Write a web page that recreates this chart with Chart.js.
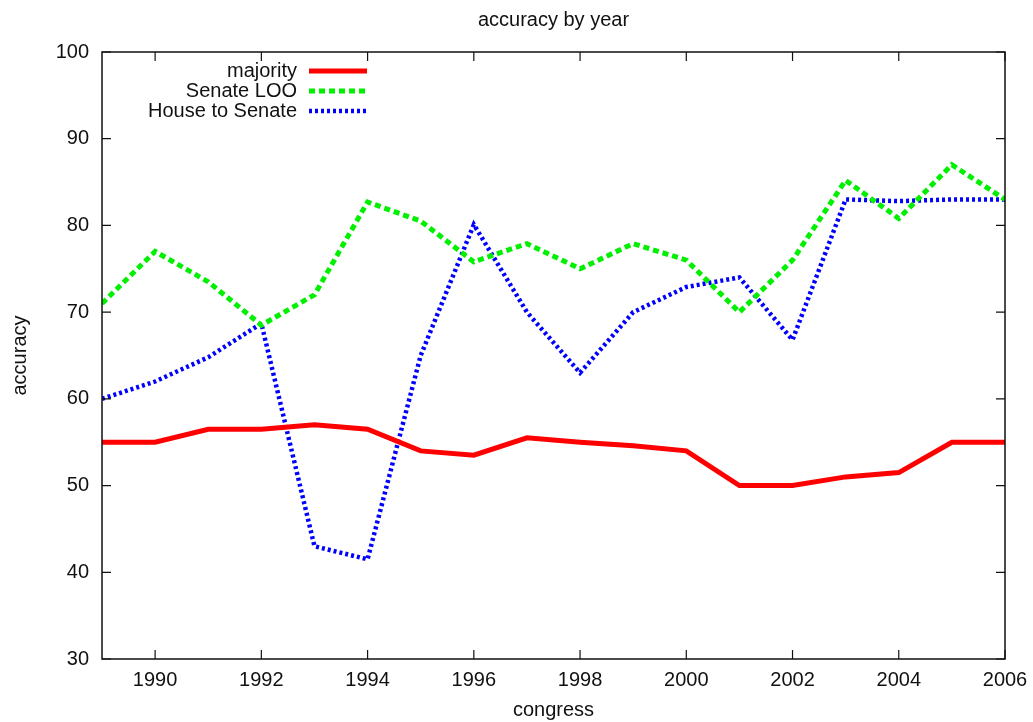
<!DOCTYPE html>
<html>
<head>
<meta charset="utf-8">
<script src="https://cdn.jsdelivr.net/npm/chart.js@4/dist/chart.umd.min.js"></script>
<style>
  html, body { margin: 0; padding: 0; background: #fff; }
  #wrap { width: 1033px; height: 722px; }
</style>
</head>
<body>
<div id="wrap"><canvas id="chart" width="1033" height="722"></canvas></div>
<script>
// values
const years = [1989, 1990, 1991, 1992, 1993, 1994, 1995, 1996, 1997, 1998, 1999, 2000, 2001, 2002, 2003, 2004, 2005, 2006];
const majority = [55, 55, 56.5, 56.5, 57, 56.5, 54, 53.5, 55.5, 55, 54.6, 54, 50, 50, 51, 51.5, 55, 55];
const senateLoo = [71, 77, 73.5, 68.5, 72, 82.7, 80.5, 75.8, 77.9, 75, 77.9, 76, 70, 76, 85.2, 80.8, 87, 83];
const houseToSenate = [60, 62, 64.8, 68.7, 43, 41.5, 65, 80.1, 70, 63, 70, 72.9, 74, 66.8, 83, 82.8, 83, 83];
const xTicks = [1990, 1992, 1994, 1996, 1998, 2000, 2002, 2004, 2006];
const yTicks = [30, 40, 50, 60, 70, 80, 90, 100];

const FONT = "'Liberation Sans', Arial, Helvetica, sans-serif";
const INK = '#111';

function toPoints(values) {
    return years.map((y, i) => ({ x: y, y: values[i] }));
}

// gnuplot style frame, inward ticks, title and legend
const gnuplotLook = {
    id: 'gnuplotLook',
    afterDatasetsDraw(chart) {
        const { ctx, chartArea: a, scales } = chart;
        ctx.save();
        ctx.strokeStyle = INK;
        ctx.lineWidth = 1.5;
        ctx.strokeRect(a.left, a.top, a.right - a.left, a.bottom - a.top);

        ctx.lineWidth = 1.2;
        ctx.beginPath();
        xTicks.forEach(v => {
            const px = scales.x.getPixelForValue(v);
            ctx.moveTo(px, a.bottom); ctx.lineTo(px, a.bottom - 9);
            ctx.moveTo(px, a.top); ctx.lineTo(px, a.top + 9);
        });
        yTicks.forEach(v => {
            const py = scales.y.getPixelForValue(v);
            ctx.moveTo(a.left, py); ctx.lineTo(a.left + 9, py);
            ctx.moveTo(a.right, py); ctx.lineTo(a.right - 9, py);
        });
        ctx.stroke();

        // title
        ctx.fillStyle = INK;
        ctx.font = '20px ' + FONT;
        ctx.textAlign = 'center';
        ctx.textBaseline = 'middle';
        ctx.fillText('accuracy by year', (a.left + a.right) / 2, 20);

        // legend, text right aligned before the sample line
        ctx.textAlign = 'right';
        chart.data.datasets.forEach((ds, i) => {
            const y = 71 + i * 20;
            ctx.fillStyle = INK;
            ctx.fillText(ds.label, 297, y);
            ctx.strokeStyle = ds.borderColor;
            ctx.lineWidth = ds.borderWidth;
            ctx.setLineDash(ds.borderDash || []);
            ctx.beginPath();
            ctx.moveTo(309, y);
            ctx.lineTo(367, y);
            ctx.stroke();
        });
        ctx.restore();
    }
};

new Chart(document.getElementById('chart'), {
    type: 'line',
    data: {
        datasets: [{
            label: 'majority',
            data: toPoints(majority),
            borderColor: '#ff0000',
            borderWidth: 5,
            borderDash: [],
            pointRadius: 0
        }, {
            label: 'Senate LOO',
            data: toPoints(senateLoo),
            borderColor: '#00f000',
            borderWidth: 5,
            borderDash: [6, 4],
            pointRadius: 0
        }, {
            label: 'House to Senate',
            data: toPoints(houseToSenate),
            borderColor: '#0000ff',
            borderWidth: 4.5,
            borderDash: [3, 3],
            pointRadius: 0
        }]
    },
    options: {
        responsive: false,
        animation: false,
        layout: { padding: { top: 52, right: 28, left: 0, bottom: 0 } },
        plugins: { legend: { display: false }, tooltip: { enabled: false } },
        elements: { line: { tension: 0, borderJoinStyle: 'miter', borderCapStyle: 'butt' } },
        scales: {
            x: {
                type: 'linear',
                min: 1989,
                max: 2006,
                afterBuildTicks(scale) { scale.ticks = xTicks.map(v => ({ value: v })); },
                afterFit(scale) {
                    scale.height = 63;
                    // let the last label hang into the margin like gnuplot does
                    scale.paddingLeft = 0;
                    scale.paddingRight = 0;
                },
                grid: { display: false, drawTicks: false },
                border: { display: false },
                ticks: { padding: 9, color: INK, font: { family: FONT, size: 20 }, callback: v => String(v), maxRotation: 0 },
                title: { display: true, text: 'congress', color: INK, font: { family: FONT, size: 20 }, padding: { top: 0, bottom: 0 } }
            },
            y: {
                min: 30,
                max: 100,
                afterBuildTicks(scale) { scale.ticks = yTicks.map(v => ({ value: v })); },
                afterFit(scale) { scale.width = 102; },
                grid: { display: false, drawTicks: false },
                border: { display: false },
                ticks: { padding: 13, color: INK, font: { family: FONT, size: 20 } },
                title: { display: true, text: 'accuracy', color: INK, font: { family: FONT, size: 20 }, padding: { top: 8, bottom: 4 } }
            }
        }
    },
    plugins: [gnuplotLook]
});
</script>
</body>
</html>
